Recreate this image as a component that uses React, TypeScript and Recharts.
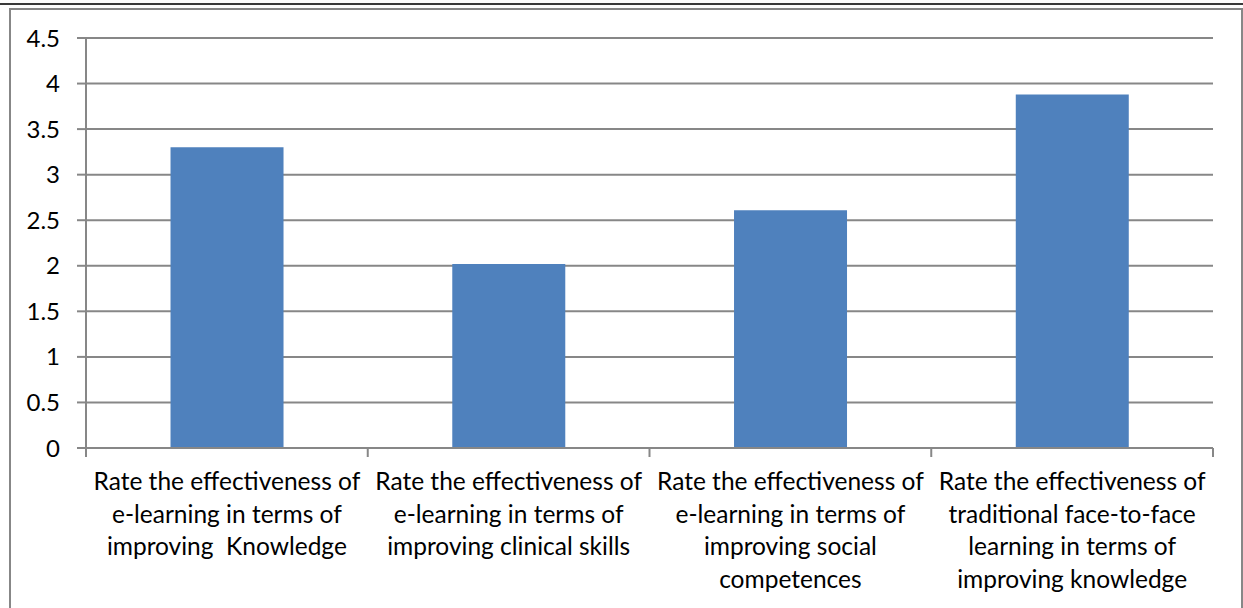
import { BarChart, Bar, XAxis, YAxis, CartesianGrid } from "recharts";

// Mean ratings per survey question
const categories = [
    "Rate the effectiveness of e-learning in terms of improving  Knowledge",
    "Rate the effectiveness of e-learning in terms of improving clinical skills",
    "Rate the effectiveness of e-learning in terms of improving social competences",
    "Rate the effectiveness of traditional face-to-face learning in terms of improving knowledge",
];
const labelLines = [
    ["Rate the effectiveness of", "e-learning in terms of", "improving  Knowledge"],
    ["Rate the effectiveness of", "e-learning in terms of", "improving clinical skills"],
    ["Rate the effectiveness of", "e-learning in terms of", "improving social", "competences"],
    ["Rate the effectiveness of", "traditional face-to-face", "learning in terms of", "improving knowledge"],
];
const scores = [3.3, 2.02, 2.61, 3.88];
const yTicks = [0, 0.5, 1, 1.5, 2, 2.5, 3, 3.5, 4, 4.5];

const data = categories.map((name, i) => ({ name, score: scores[i] }));

const FONT = "Lato, 'Open Sans', sans-serif";
const AXIS_GRAY = "#878787";
const TICK_LEN = 9;

// Multi-line category label, plus the tick marks on the band edges
const CategoryTick = (props: any) => {
    const { x, y, payload, index, width, visibleTicksCount } = props;
    const lines = labelLines[categories.indexOf(payload.value)] || [payload.value];
    const half = width / visibleTicksCount / 2;
    const isLast = index === visibleTicksCount - 1;
    return (
        <g>
            <line x1={x - half} x2={x - half} y1={y} y2={y + TICK_LEN} stroke={AXIS_GRAY} strokeWidth={2} />
            {isLast && (
                <line x1={x + half} x2={x + half} y1={y} y2={y + TICK_LEN} stroke={AXIS_GRAY} strokeWidth={2} />
            )}
            <text
                x={x}
                y={y}
                textAnchor="middle"
                fill="#000"
                fontSize={24.5}
                fontFamily={FONT}
                style={{ whiteSpace: "pre" }}
            >
                {lines.map((line: string, i: number) => (
                    <tspan key={i} x={x} dy={i === 0 ? 42 : 32.7}>
                        {line}
                    </tspan>
                ))}
            </text>
        </g>
    );
};

const App = () => {
    return (
        <div
            style={{
                position: "absolute",
                left: 0,
                top: 0,
                width: 1243,
                height: 608,
                overflow: "hidden",
                background: "#fff",
            }}
        >
            <div
                style={{
                    position: "absolute",
                    left: 0,
                    top: 3,
                    width: 1243,
                    height: 2,
                    background: "#3a3a3a",
                }}
            />
            <div
                style={{
                    position: "absolute",
                    left: 9,
                    top: 8,
                    width: 1230,
                    height: 640,
                    border: `2px solid ${AXIS_GRAY}`,
                }}
            />
            <div style={{ position: "absolute", left: 0, top: 0 }}>
                <BarChart
                    width={1243}
                    height={608}
                    data={data}
                    margin={{ top: 38, right: 30, left: 10, bottom: 10 }}
                    barCategoryGap="30%"
                >
                    <CartesianGrid vertical={false} stroke={AXIS_GRAY} strokeWidth={2} />
                    <XAxis
                        dataKey="name"
                        height={150}
                        interval={0}
                        tickSize={0}
                        tickMargin={0}
                        tickLine={false}
                        axisLine={{ stroke: AXIS_GRAY, strokeWidth: 2 }}
                        tick={<CategoryTick />}
                    />
                    <YAxis
                        width={76}
                        domain={[0, 4.5]}
                        ticks={yTicks}
                        tickSize={TICK_LEN}
                        tickMargin={17}
                        axisLine={{ stroke: AXIS_GRAY, strokeWidth: 2 }}
                        tickLine={{ stroke: AXIS_GRAY, strokeWidth: 2 }}
                        tick={{ fill: "#000", fontSize: 24, fontFamily: FONT }}
                    />
                    <Bar dataKey="score" fill="#4f81bd" isAnimationActive={false} />
                </BarChart>
            </div>
        </div>
    );
};

export default App;
